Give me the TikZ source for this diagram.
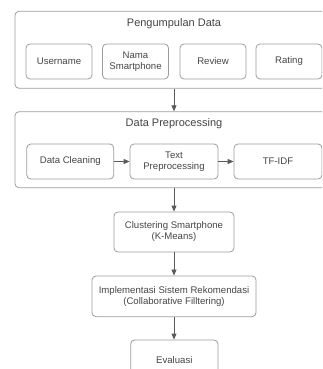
\documentclass[tikz,border=0pt]{standalone}
\usepackage{fontspec}
\setmainfont{Liberation Sans}
\usepackage{tikz}
\usetikzlibrary{positioning,arrows.meta}

\definecolor{boxline}{HTML}{9C9C9C}
\definecolor{boxtext}{HTML}{444444}
\definecolor{arrowline}{HTML}{5A5A5A}

\begin{document}
\begin{tikzpicture}[x=1pt,y=-1pt,
		group/.style={draw=boxline, line width=0.8pt, rounded corners=4pt, minimum width=318pt, inner sep=0pt},
		item/.style={draw=boxline, line width=0.8pt, rounded corners=4pt, align=center, text=boxtext, font=\fontsize{9.6}{11}\selectfont, inner sep=2pt},
		title/.style={text=boxtext, font=\fontsize{11}{13}\selectfont, inner sep=0pt},
		flow/.style={draw=arrowline, line width=0.8pt, -{Triangle[length=6pt,width=5pt]}}]
				\path[use as bounding box, clip] (0,0) rectangle (322,369);
				% data collection
				\node[group, minimum height=77pt] (collect) at (174, 49.8) {};
				\node[title] (collecttitle) at (174, 24) {Pengumpulan Data};
				\node[item, minimum width=66pt, minimum height=35pt] (user) at (59, 61.5) {Username};
				\node[item, minimum width=66pt, minimum height=35pt] (phone) at (135.5, 61.5) {Nama\\Smartphone};
				\node[item, minimum width=66pt, minimum height=35pt] (review) at (213, 61.5) {Review};
				\node[item, minimum width=66pt, minimum height=35pt] (rating) at (289, 61.5) {Rating};
				% preprocessing
				\node[group, minimum height=76pt] (prep) at (174, 149.7) {};
				\node[title] (preptitle) at (174, 124) {Data Preprocessing};
				\node[item, minimum width=87pt, minimum height=35pt] (clean) at (70.3, 161.5) {Data Cleaning};
				\node[item, minimum width=88pt, minimum height=35pt] (text) at (174, 161.5) {Text\\Preprocessing};
				\node[item, minimum width=88pt, minimum height=35pt] (tfidf) at (278, 161.5) {TF-IDF};
				% next steps
				\node[item, minimum width=120pt, minimum height=40pt] (cluster) at (174, 232) {Clustering Smartphone\\(K-Means)};
				\node[item, minimum width=164pt, minimum height=40.7pt] (recsys) at (174, 296.3) {Implementasi Sistem Rekomendasi\\(Collaborative Filltering)};
				\node[item, minimum width=87.3pt, minimum height=40pt] (eval) at (174.3, 360) {Evaluasi};
				\draw[flow] (collect) -- (prep);
				\draw[flow] (clean) -- (text);
				\draw[flow] (text) -- (tfidf);
				\draw[flow] (prep) -- (cluster);
				\draw[flow] (cluster) -- (recsys);
				\draw[flow] (recsys) -- (eval.north -| recsys.south);
				\end{tikzpicture}
\end{document}
